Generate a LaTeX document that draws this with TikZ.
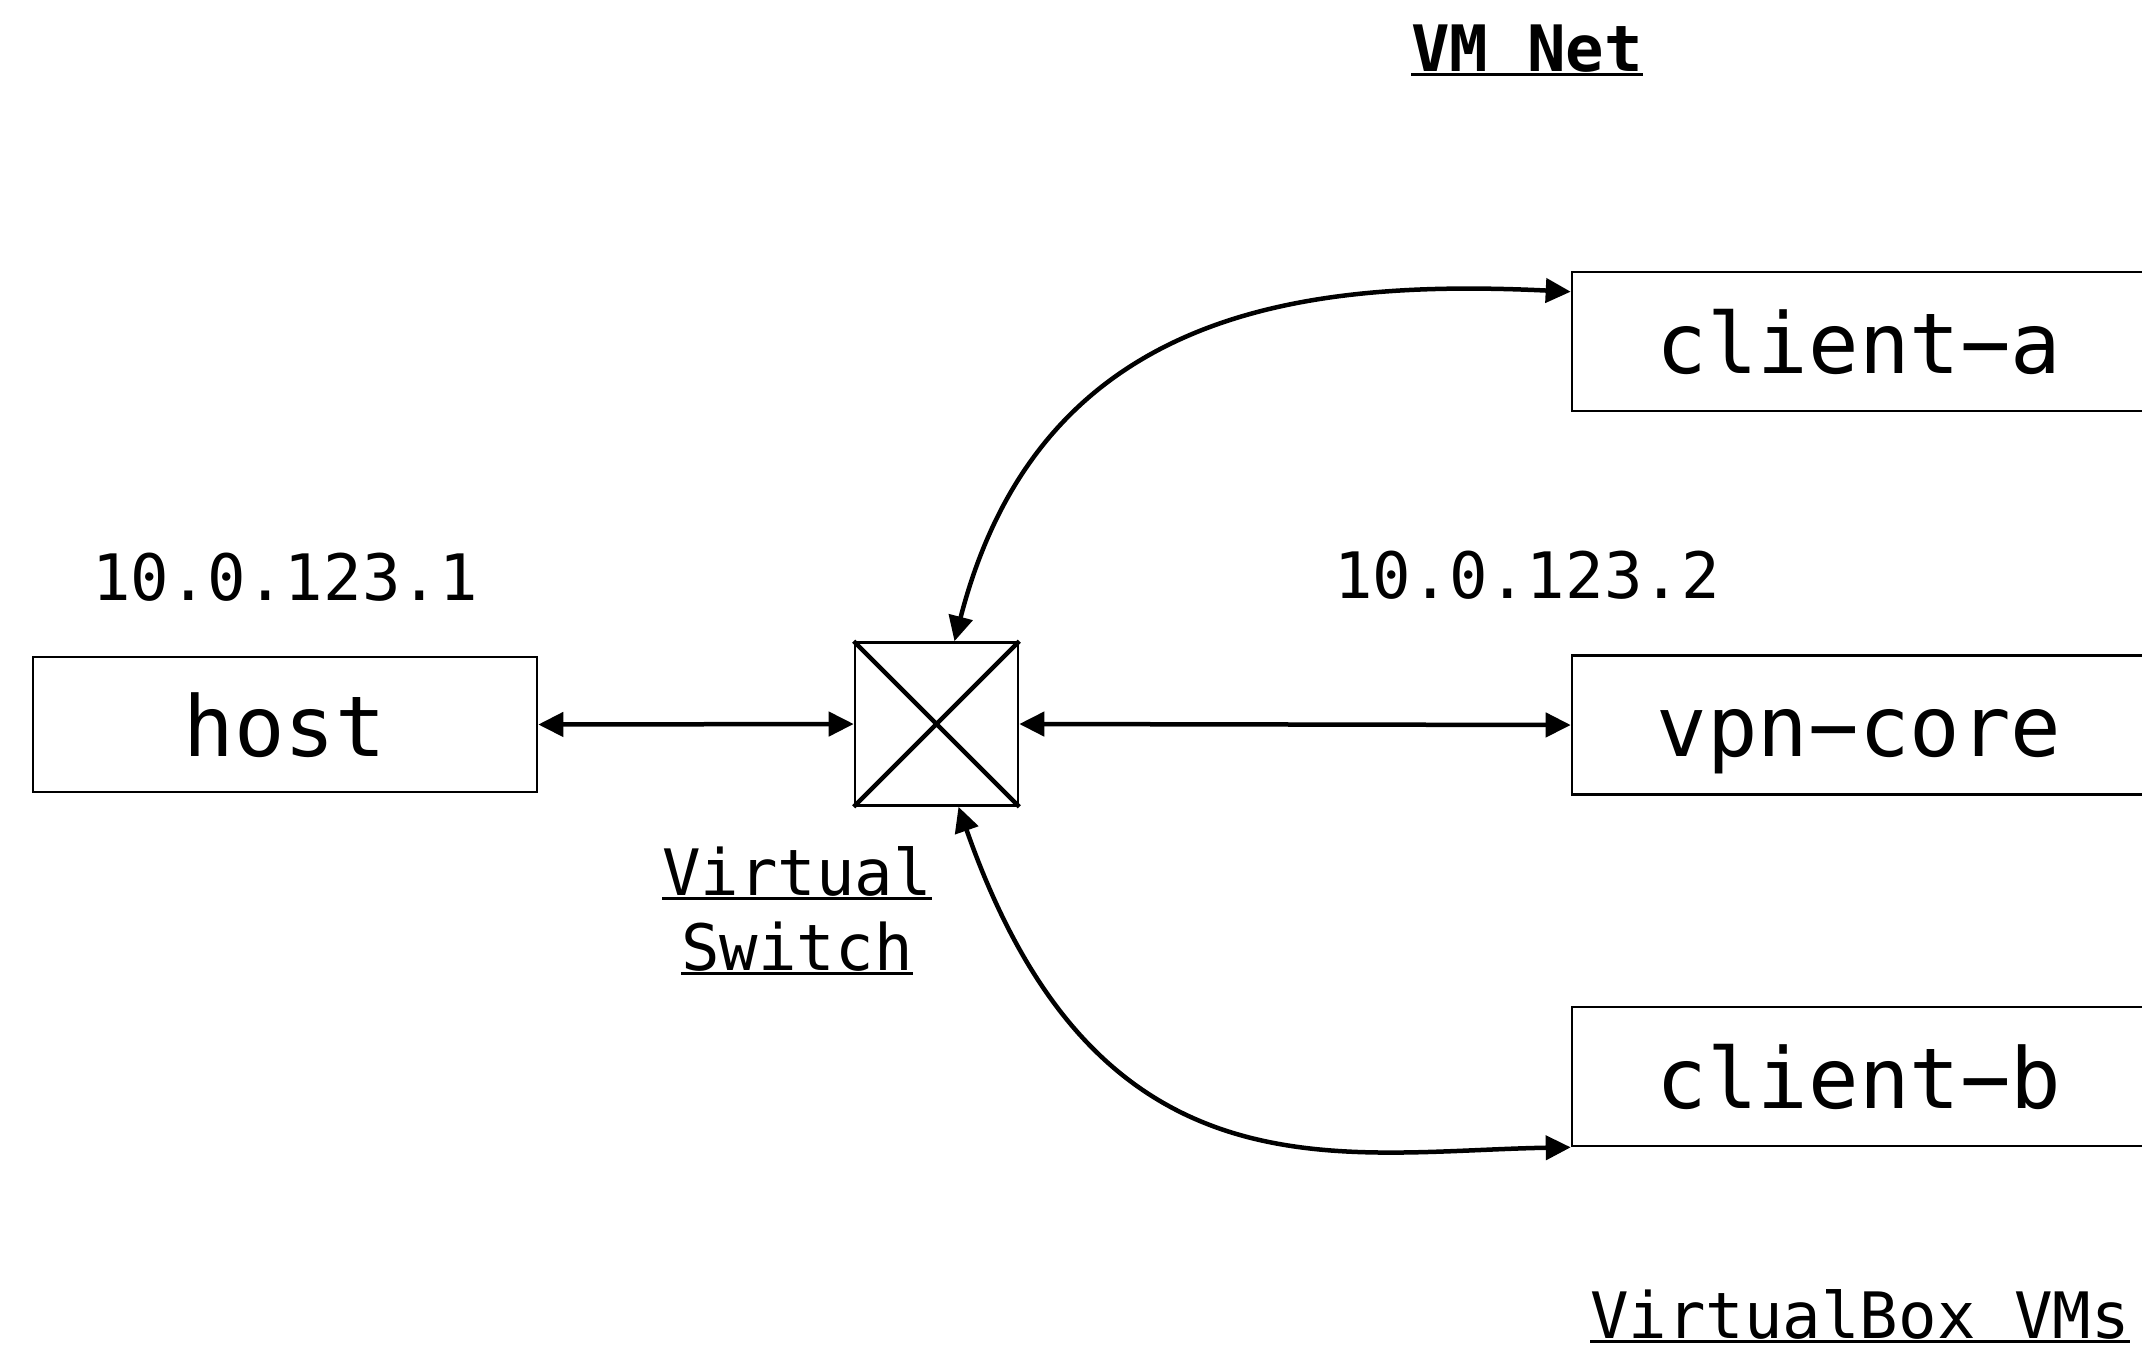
\documentclass[tikz,border=0pt]{standalone}
\usepackage{fontspec}
\setmonofont{DejaVu Sans Mono}
\usetikzlibrary{arrows.meta,calc}
\newcommand\myul[1]{\setbox0\hbox{#1}\rlap{\rule[-2.25pt]{\wd0}{1.5pt}}\box0}
\begin{document}
\begin{tikzpicture}[x=0.5pt, y=-0.5pt,
  box/.style={draw, line width=1.3pt, minimum width=287pt, minimum height=69.5pt, inner sep=0pt,
    font=\ttfamily\fontsize{42}{50}\selectfont, text height=31.9pt, text depth=0pt},
  swbox/.style={draw, line width=1.3pt, minimum size=81.5pt, inner sep=0pt},
  lbl/.style={font=\ttfamily\fontsize{32}{37.5}\selectfont, inner sep=0pt, anchor=base},
  conn/.style={line width=2.25pt, {Triangle[length=12.5pt,width=12pt]}-{Triangle[length=12.5pt,width=12pt]}}]
\useasboundingbox (0,0) rectangle (2142,1345);

% boxes
\node[box, minimum width=252pt, minimum height=67.5pt] (host) at (285,724.5) {host};
\node[swbox] (sw) at (936.5,724) {};
\node[box] (ca) at (1859,341.5) {client−a};
\node[box] (vpn) at (1859,725) {vpn−core};
\node[box] (cb) at (1859,1076.5) {client−b};

% switch cross
\draw[line width=2.25pt] (sw.north west) -- (sw.south east) (sw.north east) -- (sw.south west);

% labels
\node[lbl, font=\ttfamily\bfseries\fontsize{32}{37.5}\selectfont] (title) at (1527,71) {\myul{VM Net}};
\node[lbl] (iph) at (285,600) {10.0.123.1};
\node[lbl] (ipv) at (1527,598) {10.0.123.2};
\node[lbl] (swl1) at (797,895) {\myul{Virtual}};
\node[lbl] (swl2) at (797,970) {\myul{Switch}};
\node[lbl] (vbl) at (1860,1338) {\myul{VirtualBox VMs}};

% connectors
\draw[conn] (host.east) -- (sw.west);
\draw[conn] (sw.east) -- (vpn.west);
\draw[conn] ($(sw.north)+(18,0)$) .. controls +(85,-330) and +(-272,-13) .. ($(ca.north west)+(0,21)$);
\draw[conn] ($(sw.south)+(22,0)$) .. controls +(140,400) and +(-232,4) .. (cb.south west);
\end{tikzpicture}
\end{document}
